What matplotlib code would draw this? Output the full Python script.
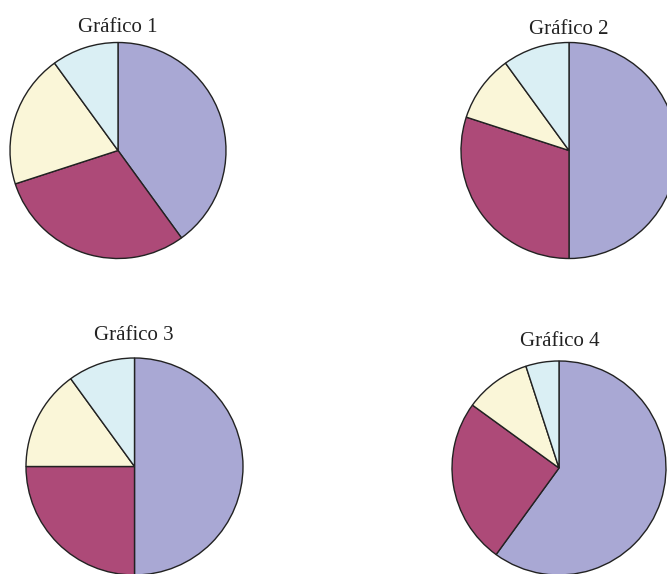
import matplotlib.pyplot as plt

# shares per chart (purple, magenta, yellow, light blue), clockwise from top
titles = ['Gráfico 1', 'Gráfico 2', 'Gráfico 3', 'Gráfico 4']
shares_1 = [40, 30, 20, 10]
shares_2 = [50, 30, 10, 10]
shares_3 = [50, 25, 15, 10]
shares_4 = [60, 25, 10, 5]
all_shares = [shares_1, shares_2, shares_3, shares_4]

colors = ['#a9a8d4', '#ad4a78', '#faf6d8', '#daeff4']

# layout in pixels (x, y from top), radius, title position
centers = [(118, 150.5), (569, 150.5), (134.5, 466.5), (559, 468)]
radii = [108, 108, 108.5, 107]
title_pos = [(118, 27), (569, 30), (134, 336), (560, 341)]

W, H = 667, 574
fig = plt.figure(figsize=(W / 100, H / 100), dpi=100)
ax = fig.add_axes([0, 0, 1, 1])

for vals, (cx, cy), r, (tx, ty), t in zip(all_shares, centers, radii, title_pos, titles):
    ax.pie(vals, colors=colors, startangle=90, counterclock=False,
           center=(cx, H - cy), radius=r,
           wedgeprops={'edgecolor': '#222222', 'linewidth': 1.0})
    ax.text(tx, H - ty, t, ha='center', va='center', fontsize=15,
            family='Liberation Serif', color='#222222')

ax.set_xlim(0, W)
ax.set_ylim(0, H)
ax.set_aspect('equal')
ax.axis('off')

fig.savefig('out.png', dpi=100)
